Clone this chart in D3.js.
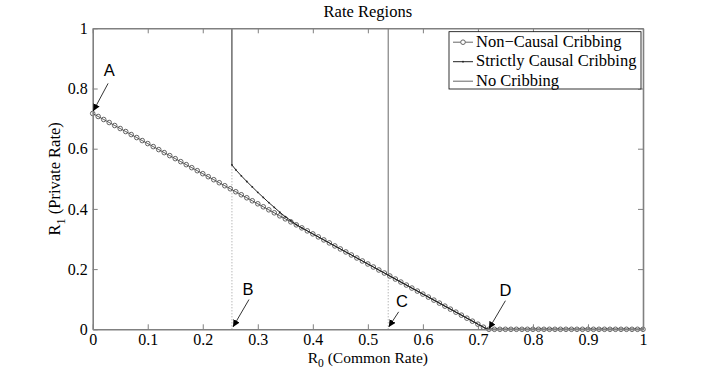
<!DOCTYPE html>
<html>
<head>
<meta charset="utf-8">
<script src="https://cdn.jsdelivr.net/npm/d3@7"></script>
<style>
  body { margin: 0; background: #fff; }
  svg { display: block; }
</style>
</head>
<body>
<div id="graph"></div>
<script>
// chart data
var xTicks = [0, 0.1, 0.2, 0.3, 0.4, 0.5, 0.6, 0.7, 0.8, 0.9, 1];
var yTicks = [0, 0.2, 0.4, 0.6, 0.8, 1];
var xTickLabels = ["0", "0.1", "0.2", "0.3", "0.4", "0.5", "0.6", "0.7", "0.8", "0.9", "1"];
var yTickLabels = ["0", "0.2", "0.4", "0.6", "0.8", "1"];

var seriesNames = ["Non\u2212Causal Cribbing", "Strictly Causal Cribbing", "No Cribbing"];

var nonCausalR0 = [0, .01, .02, .03, .04, .05, .06, .07, .08, .09,
                   .10, .11, .12, .13, .14, .15, .16, .17, .18, .19,
                   .20, .21, .22, .23, .24, .25, .26, .27, .28, .29,
                   .30, .31, .32, .33, .34, .35, .36, .37, .38, .39,
                   .40, .41, .42, .43, .44, .45, .46, .47, .48, .49,
                   .50, .51, .52, .53, .54, .55, .56, .57, .58, .59,
                   .60, .61, .62, .63, .64, .65, .66, .67, .68, .69,
                   .70, .71, .72, .73, .74, .75, .76, .77, .78, .79,
                   .80, .81, .82, .83, .84, .85, .86, .87, .88, .89,
                   .90, .91, .92, .93, .94, .95, .96, .97, .98, .99, 1];
var nonCausalR1 = [.717, .707, .697, .687, .677, .667, .657, .647, .637, .627,
                   .617, .607, .597, .587, .577, .567, .557, .547, .537, .527,
                   .517, .507, .497, .487, .477, .467, .457, .447, .437, .427,
                   .417, .407, .397, .387, .377, .367, .357, .347, .337, .327,
                   .317, .307, .297, .287, .277, .267, .257, .247, .237, .227,
                   .217, .207, .197, .187, .177, .167, .157, .147, .137, .127,
                   .117, .107, .097, .087, .077, .067, .057, .047, .037, .027,
                   .017, .007, 0, 0, 0, 0, 0, 0, 0, 0,
                   0, 0, 0, 0, 0, 0, 0, 0, 0, 0,
                   0, 0, 0, 0, 0, 0, 0, 0, 0, 0, 0];

var strictR0 = [0.253, 0.253, 0.26, 0.27, 0.28, 0.29, 0.30, 0.31, 0.32, 0.33, 0.34, 0.35, 0.36, 0.37, 0.38, 0.717, 1];
var strictR1 = [1, 0.546, 0.530, 0.510, 0.491, 0.473, 0.455, 0.438, 0.421, 0.405, 0.389, 0.374, 0.361, 0.348, 0.337, 0, 0];

var noCribR0 = [0.537, 0.537, 0.717, 1];
var noCribR1 = [1, 0.18, 0, 0];

// annotation points: label, label position, arrow start, arrow tip (data units)
var notes = [
  {t: "A", lx: 0.030, ly: 0.84, x1: 0.028, y1: 0.817, x2: 0.001, y2: 0.725},
  {t: "B", lx: 0.282, ly: 0.115, x1: 0.284, y1: 0.099, x2: 0.255, y2: 0.008},
  {t: "C", lx: 0.562, ly: 0.075, x1: 0.556, y1: 0.058, x2: 0.538, y2: 0.008},
  {t: "D", lx: 0.750, ly: 0.112, x1: 0.750, y1: 0.095, x2: 0.72, y2: 0.002}
];

var w = 711, h = 371;
var serif = "'Liberation Serif', 'Times New Roman', serif";
var sans = "'Liberation Sans', Arial, sans-serif";

var svg = d3.select("#graph").append("svg")
            .attr("width", w)
            .attr("height", h);

var x = d3.scaleLinear().domain([0, 1]).range([92.7, 643]);
var y = d3.scaleLinear().domain([0, 1]).range([329.3, 28.3]);

svg.append("defs").append("marker")
   .attr("id", "arr")
   .attr("viewBox", "0 0 10 10")
   .attr("refX", 10).attr("refY", 5)
   .attr("markerWidth", 7).attr("markerHeight", 7)
   .attr("markerUnits", "userSpaceOnUse")
   .attr("orient", "auto")
   .append("path")
   .attr("d", "M0,0 L10,5 L0,10 Z")
   .attr("fill", "#000");

// dotted guides from B and C
var guides = [[0.253, 0.546], [0.537, 0.18]];
svg.selectAll(".guide")
   .data(guides)
   .enter().append("line")
   .attr("x1", function(d) { return x(d[0]); })
   .attr("x2", function(d) { return x(d[0]); })
   .attr("y1", y(0))
   .attr("y2", function(d) { return y(d[1]); })
   .attr("stroke", "#999")
   .attr("stroke-width", 1)
   .attr("stroke-dasharray", "1,2");

var line = d3.line()
             .x(function(d) { return x(d[0]); })
             .y(function(d) { return y(d[1]); });

var nonCausal = d3.zip(nonCausalR0, nonCausalR1);
var strict = d3.zip(strictR0, strictR1);
var noCrib = d3.zip(noCribR0, noCribR1);

svg.append("path").datum(noCrib)
   .attr("d", line).attr("fill", "none")
   .attr("stroke", "#777").attr("stroke-width", 1.1);

svg.append("path").datum(nonCausal)
   .attr("d", line).attr("fill", "none")
   .attr("stroke", "#555").attr("stroke-width", 1);

svg.selectAll(".nc")
   .data(nonCausal)
   .enter().append("circle")
   .attr("cx", function(d) { return x(d[0]); })
   .attr("cy", function(d) { return y(d[1]); })
   .attr("r", 2.3)
   .attr("fill", "none")
   .attr("stroke", "#555")
   .attr("stroke-width", 0.9);

svg.append("path").datum(strict)
   .attr("d", line).attr("fill", "none")
   .attr("stroke", "#222").attr("stroke-width", 1);

svg.selectAll(".sc")
   .data(strict.slice(1))
   .enter().append("circle")
   .attr("cx", function(d) { return x(d[0]); })
   .attr("cy", function(d) { return y(d[1]); })
   .attr("r", 0.9)
   .attr("fill", "#222");

// axes, MATLAB box style with inward ticks
function styleAxis(g) {
    g.attr("font-family", serif);
    g.selectAll(".domain").attr("stroke", "#808080").attr("stroke-width", 1.6);
    g.selectAll(".tick line").attr("stroke", "#808080").attr("stroke-width", 1);
    g.selectAll("text").attr("fill", "#000")
     .style("font-family", serif).style("font-size", "16px");
}

svg.append("g")
   .attr("transform", "translate(0," + y(0) + ")")
   .call(d3.axisBottom(x).tickValues(xTicks).tickSize(-5).tickSizeOuter(0).tickPadding(4)
           .tickFormat(function(d, i) { return xTickLabels[i]; }))
   .call(styleAxis);

svg.append("g")
   .attr("transform", "translate(" + x(0) + ",0)")
   .call(d3.axisLeft(y).tickValues(yTicks).tickSize(-5).tickSizeOuter(0).tickPadding(5)
           .tickFormat(function(d, i) { return yTickLabels[i]; }))
   .call(styleAxis);

svg.append("g")
   .attr("transform", "translate(0," + y(1) + ")")
   .call(d3.axisTop(x).tickValues(xTicks).tickSize(-5).tickSizeOuter(0).tickFormat(""))
   .call(styleAxis);

svg.append("g")
   .attr("transform", "translate(" + x(1) + ",0)")
   .call(d3.axisRight(y).tickValues(yTicks).tickSize(-5).tickSizeOuter(0).tickFormat(""))
   .call(styleAxis);

// annotations
svg.selectAll(".arrow")
   .data(notes)
   .enter().append("line")
   .attr("x1", function(d) { return x(d.x1); })
   .attr("y1", function(d) { return y(d.y1); })
   .attr("x2", function(d) { return x(d.x2); })
   .attr("y2", function(d) { return y(d.y2); })
   .attr("stroke", "#000")
   .attr("stroke-width", 0.8)
   .attr("marker-end", "url(#arr)");

svg.selectAll(".note")
   .data(notes)
   .enter().append("text")
   .attr("x", function(d) { return x(d.lx); })
   .attr("y", function(d) { return y(d.ly); })
   .attr("text-anchor", "middle")
   .style("font-family", sans)
   .style("font-size", "16.5px")
   .text(function(d) { return d.t; });

// title and axis labels
svg.append("text")
   .attr("x", (x(0) + x(1)) / 2).attr("y", 17)
   .attr("text-anchor", "middle")
   .style("font-family", serif).style("font-size", "16.5px")
   .text("Rate Regions");

var xl = svg.append("text")
   .attr("x", (x(0) + x(1)) / 2).attr("y", 363)
   .attr("text-anchor", "middle")
   .style("font-family", serif).style("font-size", "15.5px");
xl.append("tspan").text("R");
xl.append("tspan").attr("dy", 4).style("font-size", "11.5px").text("0");
xl.append("tspan").attr("dy", -4).text(" (Common Rate)");

var yl = svg.append("text")
   .attr("transform", "translate(60," + ((y(0) + y(1)) / 2) + ") rotate(-90)")
   .attr("text-anchor", "middle")
   .style("font-family", serif).style("font-size", "16.5px");
yl.append("tspan").text("R");
yl.append("tspan").attr("dy", 5).style("font-size", "12px").text("1");
yl.append("tspan").attr("dy", -5).text(" (Private Rate)");

// legend
var lg = svg.append("g").attr("transform", "translate(449,31.7)");
lg.append("rect")
  .attr("width", 192).attr("height", 57.3)
  .attr("fill", "#fff").attr("stroke", "#000").attr("stroke-width", 0.8);

var rows = lg.selectAll(".row")
   .data(seriesNames)
   .enter().append("g")
   .attr("transform", function(d, i) { return "translate(0," + (15 + i * 19.5) + ")"; });

rows.append("line")
    .attr("x1", 4).attr("x2", 24).attr("y1", -4.5).attr("y2", -4.5)
    .attr("stroke", function(d, i) { return i == 1 ? "#222" : "#666"; })
    .attr("stroke-width", 1);

rows.filter(function(d, i) { return i == 0; }).append("circle")
    .attr("cx", 14).attr("cy", -4.5).attr("r", 2.3)
    .attr("fill", "#fff").attr("stroke", "#555").attr("stroke-width", 0.9);
rows.filter(function(d, i) { return i == 1; }).append("circle")
    .attr("cx", 14).attr("cy", -4.5).attr("r", 0.9).attr("fill", "#222");

rows.append("text")
    .attr("x", 27).attr("y", 0)
    .style("font-family", serif).style("font-size", "16.5px")
    .text(function(d) { return d; });
</script>
</body>
</html>
